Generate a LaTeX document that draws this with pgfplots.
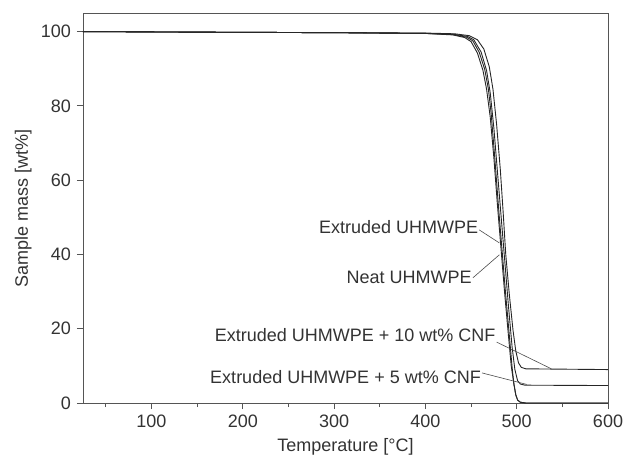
\documentclass[border=0pt]{standalone}
\usepackage{fontspec}
\setmainfont{Liberation Sans}
\usepackage{pgfplots}
\pgfplotsset{compat=1.18}
\definecolor{axgray}{HTML}{555555}
\begin{document}
\fontsize{18bp}{21bp}\selectfont
\begin{tikzpicture}
\useasboundingbox (-83bp,-60bp) rectangle (542bp,403bp);
\begin{axis}[
  scale only axis,
  width=525bp, height=390bp,
  xmin=25, xmax=600, ymin=0, ymax=105,
  xtick={100,200,300,400,500,600},
  minor xtick={50,150,250,350,450,550},
  ytick={0,20,40,60,80,100},
  tick align=outside,
  major tick length=6bp,
  minor tick length=4bp,
  xtick pos=bottom, ytick pos=left,
  axis line style={axgray, line width=0.9bp},
  tick style={axgray, line width=0.8bp},
  every tick label/.append style={font=\fontsize{18bp}{21bp}\selectfont, text=black!80},
  /pgf/number format/assume math mode=true,
  xlabel={Temperature [°C]},
  ylabel={Sample mass [wt\%]},
  label style={font=\fontsize{18bp}{21bp}\selectfont, text=black!80},
  xlabel style={yshift=2bp},
  ylabel style={yshift=-3bp},
  clip=true,
]
% Neat UHMWPE
\addplot[black!85, line width=0.9bp] coordinates {
(25,100)(100,99.9)(200,99.8)(300,99.7)(400,99.5)(430,99.1)(443,98.4)(450,97.3)(457,94.2)(463,89.6)(467,84.5)(471,77)(475,66)(479,53)(483,41)(487,29)(491,18)(494,10)(497,5)(499,2.2)(501,0.8)(504,0.2)(510,0)(600,0)};
% Extruded UHMWPE
\addplot[black!85, line width=0.9bp] coordinates {
(25,100)(100,99.9)(200,99.8)(300,99.7)(400,99.5)(430,99.2)(445,98.5)(452,97.5)(459,94.4)(465,89.8)(469,84.5)(472,78)(476,66)(480,53)(484,41)(488,29)(492,18)(495,9.5)(497,5)(499,2.2)(501,0.8)(504,0.2)(510,0)(600,0)};
% Extruded UHMWPE + 5 wt% CNF
\addplot[black!85, line width=0.9bp] coordinates {
(25,100)(100,99.9)(200,99.8)(300,99.7)(400,99.5)(430,99.3)(446,98.7)(453,97.8)(461,94.5)(467,89.5)(471,83.5)(475,74)(479,62)(483,50)(487,38)(491,26)(495,15)(498,9)(501,6)(504,5.1)(509,4.8)(600,4.7)};
% Extruded UHMWPE + 10 wt% CNF
\addplot[black!85, line width=0.9bp] coordinates {
(25,100)(100,99.9)(200,99.8)(300,99.7)(400,99.6)(432,99.4)(448,98.9)(457,97.8)(464,95.3)(470,90.5)(474,84.5)(478,75)(482,63)(485,52)(488,40)(492,29)(496,19.5)(499,14)(502,10.8)(505,9.6)(510,9.2)(600,9.0)};
% labels and leaders
\draw[black!70, line width=0.6bp] (axis cs:459,46.6) -- (axis cs:481,43.1);
\draw[black!70, line width=0.6bp] (axis cs:452,33.7) -- (axis cs:481,39.9);
\draw[black!70, line width=0.6bp] (axis cs:478,16.4) -- (axis cs:538,9.2);
\draw[black!70, line width=0.6bp] (axis cs:462,8.1) -- (axis cs:511,5.0);
\node[anchor=east, inner sep=1bp, text=black!80] at (axis cs:459,47.3) {Extruded UHMWPE};
\node[anchor=east, inner sep=1bp, text=black!80] at (axis cs:452,33.8) {Neat UHMWPE};
\node[anchor=east, inner sep=1bp, text=black!80] at (axis cs:478,18.3) {Extruded UHMWPE + 10 wt\% CNF};
\node[anchor=east, inner sep=1bp, text=black!80] at (axis cs:462,7.0) {Extruded UHMWPE + 5 wt\% CNF};
\end{axis}
\end{tikzpicture}
\end{document}
